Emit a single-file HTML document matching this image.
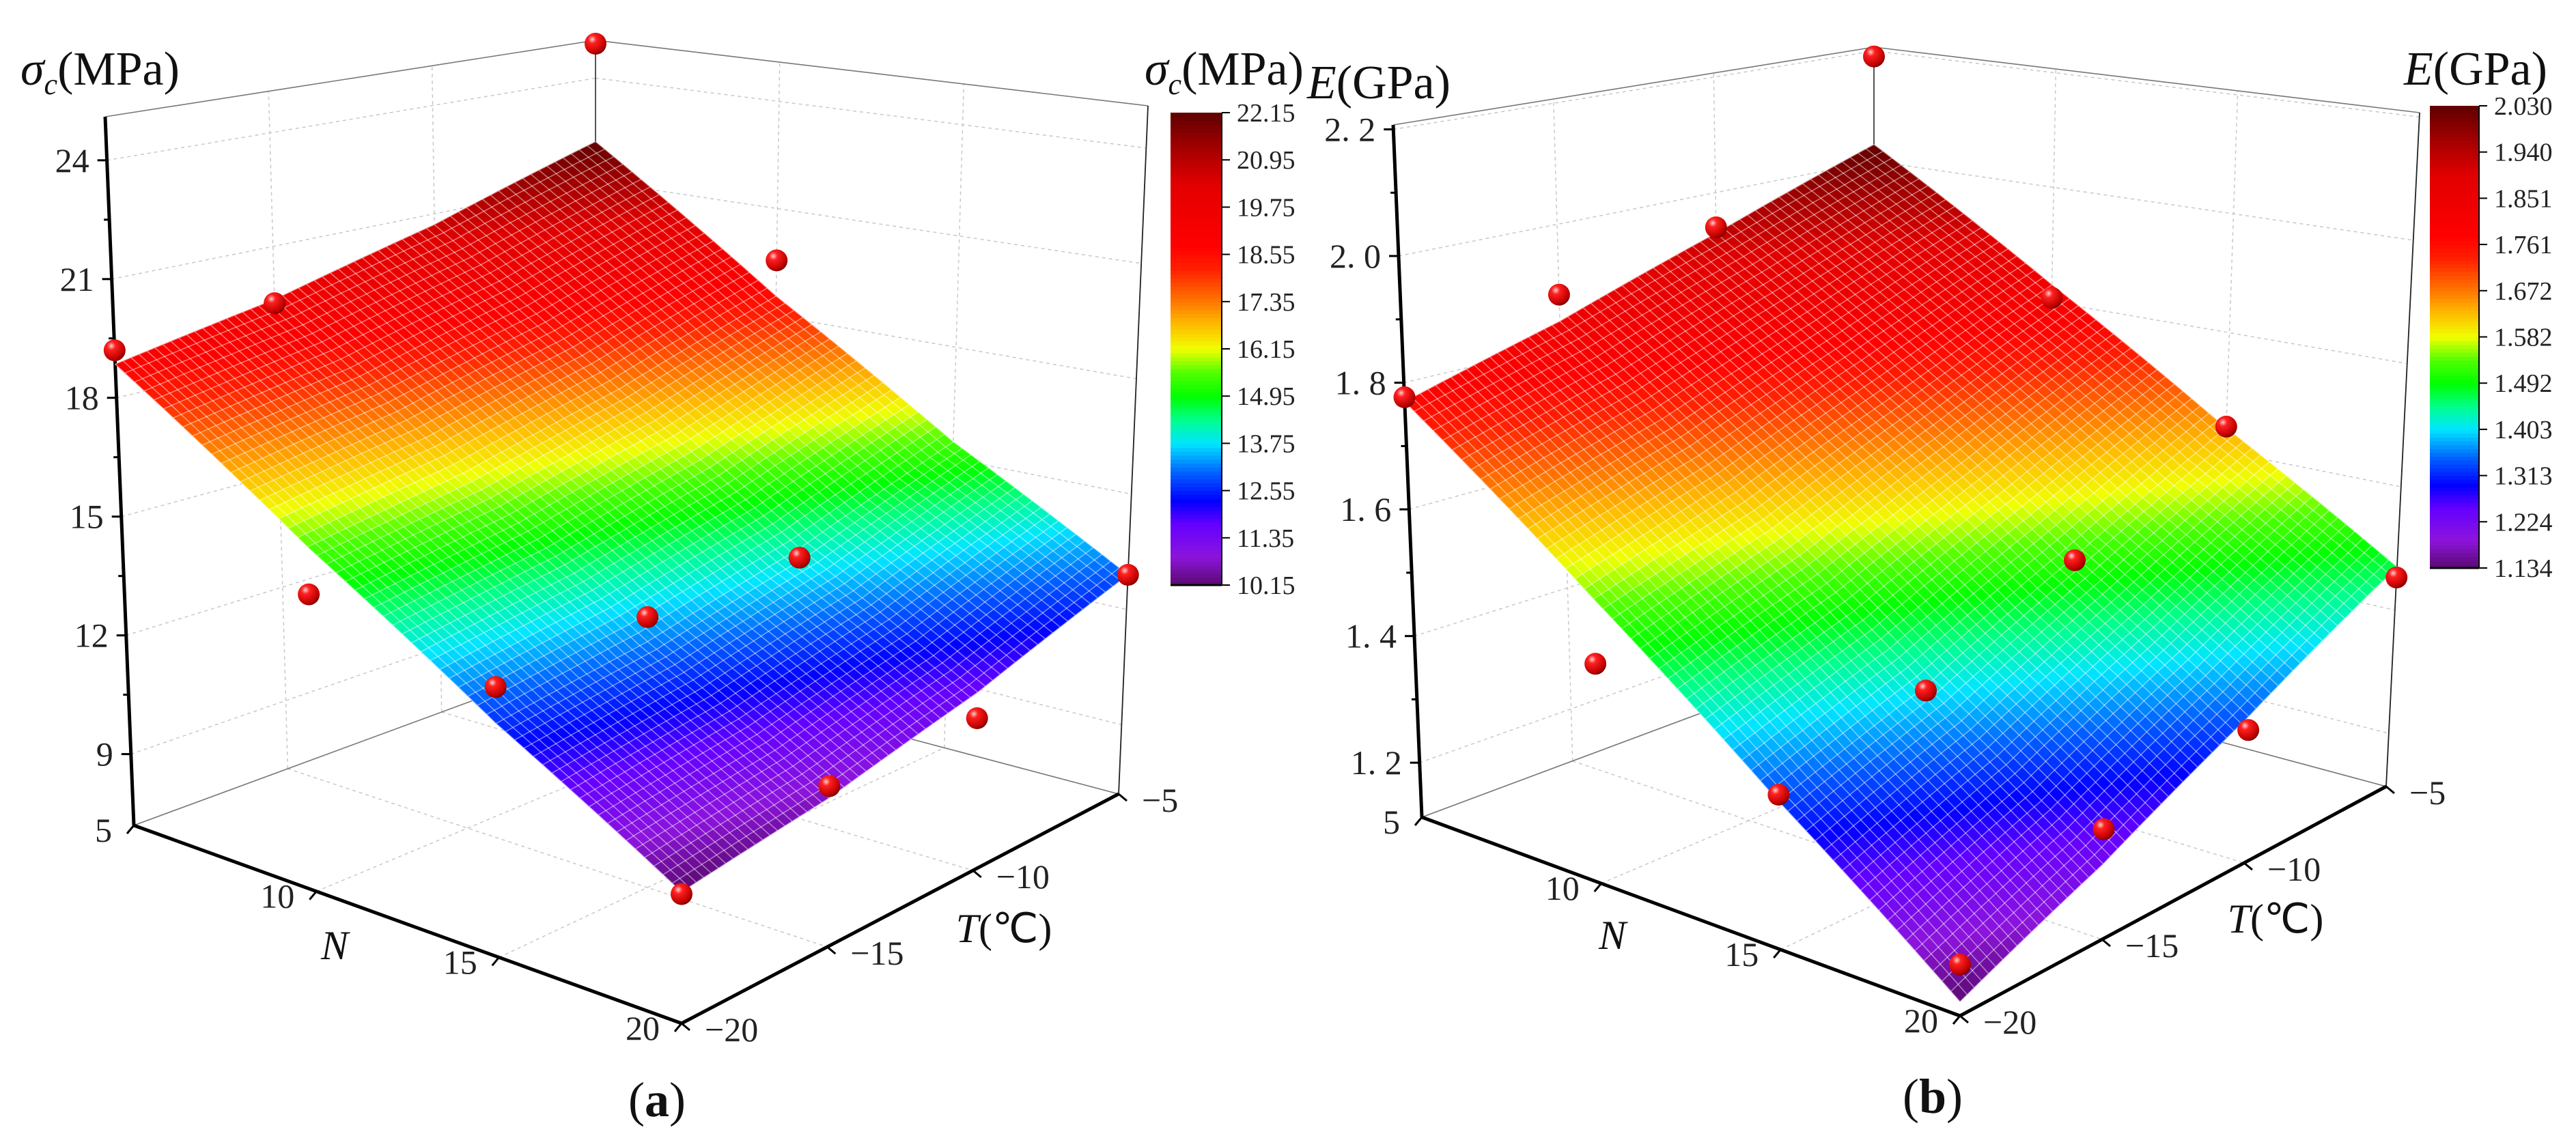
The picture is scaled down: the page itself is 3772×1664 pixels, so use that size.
<!DOCTYPE html>
<html><head><meta charset="utf-8"><style>
html,body{margin:0;padding:0;background:#fff;}
svg{display:block;font-family:"Liberation Serif",serif;}
</style></head><body>
<svg id="fig" width="3772" height="1664" viewBox="0 0 3772 1664" xmlns="http://www.w3.org/2000/svg">
<defs>
<radialGradient id="ball" cx="0.35" cy="0.3" r="0.75">
<stop offset="0" stop-color="#ffd0d0"/><stop offset="0.25" stop-color="#ff2020"/><stop offset="0.8" stop-color="#c00000"/><stop offset="1" stop-color="#700000"/>
</radialGradient>
</defs>
<g id="panelA"></g>
<g id="panelB"></g>
</svg>
<script>
// ---- Panel (a) data: sigma_c (MPa) ----
const Ns = [5, 10, 15, 20];
const Ts = [-20, -15, -10, -5];
const sigmaRowN5 = [18.85, 19.6, 20.7, 22.15];
const sigmaRowN10 = [15.55, 16.2, 17.2, 18.55];
const sigmaRowN15 = [12.65, 13.2, 14.1, 15.45];
const sigmaRowN20 = [10.15, 10.7, 11.6, 12.9];
const sigmaPtN = [5, 5, 5, 10, 10, 15, 15, 15, 20, 20, 20, 20];
const sigmaPtT = [-20, -15, -5, -5, -20, -15, -10, -20, -10, -15, -20, -5];
const sigmaPtZ = [19.2, 19.5, 25.0, 19.55, 14.4, 13.8, 13.86, 13.5, 10.96, 10.98, 10.1, 12.9];
const sigmaZTicks = [9, 12, 15, 18, 21, 24];
const sigmaZTickLabels = ["9", "12", "15", "18", "21", "24"];
const sigmaBarLabels = ["10.15","11.35","12.55","13.75","14.95","16.15","17.35","18.55","19.75","20.95","22.15"];
// ---- Panel (b) data: E (GPa) ----
const eRowN5 = [1.77, 1.84, 1.93, 2.03];
const eRowN10 = [1.545, 1.62, 1.72, 1.83];
const eRowN15 = [1.33, 1.41, 1.52, 1.64];
const eRowN20 = [1.134, 1.225, 1.34, 1.47];
const ePtN = [5, 5, 5, 5, 10, 15, 15, 20, 10, 15, 20, 15, 20, 20];
const ePtT = [-5, -20, -15, -10, -5, -5, -10, -5, -20, -15, -10, -20, -15, -20];
const ePtZ = [2.19, 1.777, 1.884, 1.94, 1.807, 1.642, 1.514, 1.453, 1.447, 1.403, 1.319, 1.34, 1.276, 1.186];
const eZTicks = [1.2, 1.4, 1.6, 1.8, 2.0, 2.2];
const eZTickLabels = ["1. 2", "1. 4", "1. 6", "1. 8", "2. 0", "2. 2"];
const eBarLabels = ["1.134","1.224","1.313","1.403","1.492","1.582","1.672","1.761","1.851","1.940","2.030"];
const nTickVals = [5, 10, 15, 20];
const tTickVals = [-20, -15, -10, -5];
const tTickLabels = ["\u221220", "\u221215", "\u221210", "\u22125"];

const NS = "http://www.w3.org/2000/svg";
const cmap = [[0,[90,10,110]],[0.06,[140,20,220]],[0.13,[100,0,255]],[0.18,[0,0,255]],[0.24,[0,100,255]],[0.3,[0,230,255]],[0.35,[0,255,140]],[0.4,[0,255,0]],[0.45,[80,255,0]],[0.5,[240,255,0]],[0.55,[255,190,0]],[0.6,[255,120,0]],[0.67,[255,30,0]],[0.72,[255,0,0]],[0.85,[225,0,0]],[0.93,[160,0,0]],[1,[95,0,0]]];
function color(t){t=Math.max(0,Math.min(1,t));for(let i=1;i<cmap.length;i++){if(t<=cmap[i][0]){const a=cmap[i-1],b=cmap[i];const f=(t-a[0])/(b[0]-a[0]);return 'rgb('+[0,1,2].map(k=>Math.round(a[1][k]+f*(b[1][k]-a[1][k]))).join(',')+')';}}return 'rgb(95,0,0)';}
function mk(tag,attrs,parent){const e=document.createElementNS(NS,tag);for(const k in attrs)e.setAttribute(k,attrs[k]);parent.appendChild(e);return e;}

function buildPanel(g,cfg,rows,ptN,ptT,ptZ,zTicks,zTickLabels,barLabels){
  const zmin=cfg.zmin,zmax=cfg.zmax;
  const bil=(c,u,v)=>[(1-u)*(1-v)*c.L[0]+u*(1-v)*c.F[0]+u*v*c.R[0]+(1-u)*v*c.B[0],(1-u)*(1-v)*c.L[1]+u*(1-v)*c.F[1]+u*v*c.R[1]+(1-u)*v*c.B[1]];
  const P=(u,v,w)=>{const a=bil(cfg.floor,u,v),b=bil(cfg.top,u,v);return [a[0]+w*(b[0]-a[0]),a[1]+w*(b[1]-a[1])];};
  const uN=n=>(n-Ns[0])/(Ns[Ns.length-1]-Ns[0]);
  const vT=t=>(t-Ts[0])/(Ts[Ts.length-1]-Ts[0]);
  const wZ=z=>(z-zmin)/(zmax-zmin);
  const surf=(u,v)=>{const x=u*(Ns.length-1),y=v*(Ts.length-1);const i=Math.min(Ns.length-2,Math.floor(x)),j=Math.min(Ts.length-2,Math.floor(y));const fx=x-i,fy=y-j;
    return rows[i][j]*(1-fx)*(1-fy)+rows[i+1][j]*fx*(1-fy)+rows[i][j+1]*(1-fx)*fy+rows[i+1][j+1]*fx*fy;};
  const line=(a,b,st)=>mk('line',Object.assign({x1:a[0].toFixed(1),y1:a[1].toFixed(1),x2:b[0].toFixed(1),y2:b[1].toFixed(1)},st),g);
  const grid={stroke:'#c8c8c8','stroke-width':1.5,'stroke-dasharray':'5 5'};
  zTicks.forEach(z=>{const w=wZ(z);line(P(0,0,w),P(0,1,w),grid);line(P(0,1,w),P(1,1,w),grid);});
  tTickVals.forEach(t=>{const v=vT(t);line(P(0,v,0),P(0,v,1),grid);line(P(0,v,0),P(1,v,0),grid);});
  nTickVals.forEach(n=>{const u=uN(n);line(P(u,1,0),P(u,1,1),grid);line(P(u,0,0),P(u,1,0),grid);});
  const thin={stroke:'#777','stroke-width':1.6};
  line(P(0,0,1),P(0,1,1),thin);line(P(0,1,1),P(1,1,1),thin);
  line(P(0,0,0),P(0,1,0),thin);line(P(0,1,0),P(1,1,0),thin);
  line(P(0,1,0),P(0,1,1),{stroke:'#444','stroke-width':1.8});
  line(P(1,1,0),P(1,1,1),{stroke:'#222','stroke-width':1.8});
  const thick={stroke:'#000','stroke-width':5};
  const zax=line(P(0,0,0),P(0,0,1),thick);
  const nax=line(P(0,0,0),P(1,0,0),thick);
  const tax=line(P(1,0,0),P(1,1,0),thick);
  zTicks.forEach((z,i)=>{const p=P(0,0,wZ(z));line([p[0]-14,p[1]],p,{stroke:'#000','stroke-width':3});
    const t=mk('text',{x:(p[0]-26).toFixed(1),y:(p[1]+17).toFixed(1),'text-anchor':'end','font-size':50,fill:'#222'},g);t.textContent=zTickLabels[i];
    });
  for(let k=0;k<zTicks.length;k++){const z=zTicks[k]+(zTicks[1]-zTicks[0])/2;if(wZ(z)<1){const p=P(0,0,wZ(z));line([p[0]-8,p[1]],p,{stroke:'#000','stroke-width':3});}}
  nTickVals.forEach(n=>{const p=P(uN(n),0,0);line(p,[p[0]-10,p[1]+12],{stroke:'#000','stroke-width':3});
    const t=mk('text',{x:(p[0]-32).toFixed(1),y:(p[1]+24).toFixed(1),'text-anchor':'end','font-size':50,fill:'#222'},g);t.textContent=String(n);
    });
  tTickVals.forEach((tv,i)=>{const p=P(1,vT(tv),0);line(p,[p[0]+12,p[1]+10],{stroke:'#000','stroke-width':3});
    const t=mk('text',{x:(p[0]+34).toFixed(1),y:(p[1]+26).toFixed(1),'text-anchor':'start','font-size':50,fill:'#222'},g);t.textContent=tTickLabels[i];
    });
  const pts=ptN.map((n,i)=>({u:uN(n),v:vT(ptT[i]),z:ptZ[i]}));
  const drawPt=p=>{const q=P(p.u,p.v,wZ(p.z));const c=mk('circle',{cx:q[0].toFixed(1),cy:q[1].toFixed(1),r:16,fill:'url(#ball)'},g);
    };
  const M=60,cells=[];
  for(let i=0;i<M;i++)for(let j=0;j<M;j++)cells.push([i,j]);
  cells.sort((a,b)=>(a[0]-a[1])-(b[0]-b[1]));
  const sg=mk('g',{},g);
  cells.forEach(([i,j])=>{const u0=i/M,u1=(i+1)/M,v0=j/M,v1=(j+1)/M;
    const cs=[[u0,v0],[u1,v0],[u1,v1],[u0,v1]].map(([u,v])=>P(u,v,wZ(surf(u,v))));
    const zc=surf((u0+u1)/2,(v0+v1)/2);const col=color((zc-cfg.cmin)/(cfg.cmax-cfg.cmin));
    mk('polygon',{points:cs.map(p=>p[0].toFixed(1)+','+p[1].toFixed(1)).join(' '),fill:col,stroke:col,'stroke-width':0.8},sg);});
  const mg=mk('g',{stroke:'rgba(255,255,255,0.5)','stroke-width':1.4,fill:'none'},g);
  for(let i=0;i<=M;i++){let d='';for(let j=0;j<=M;j++){const p=P(i/M,j/M,wZ(surf(i/M,j/M)));d+=(j?'L':'M')+p[0].toFixed(1)+' '+p[1].toFixed(1);}mk('path',{d:d},mg);
    d='';for(let j=0;j<=M;j++){const p=P(j/M,i/M,wZ(surf(j/M,i/M)));d+=(j?'L':'M')+p[0].toFixed(1)+' '+p[1].toFixed(1);}mk('path',{d:d},mg);}
  pts.forEach(drawPt);
  const cb=cfg.bar;const cg=mk('g',{},g);
  const S=120;for(let k=0;k<S;k++){const y=cb.y1-(k+1)*(cb.y1-cb.y0)/S;mk('rect',{x:cb.x0,y:y.toFixed(1),width:cb.x1-cb.x0,height:((cb.y1-cb.y0)/S+0.8).toFixed(1),fill:color((k+0.5)/S)},cg);}
  mk('line',{x1:cb.x0,y1:cb.y1,x2:cb.x1,y2:cb.y1,stroke:'#000','stroke-width':3},cg);
  mk('line',{x1:cb.x1,y1:cb.y0,x2:cb.x1,y2:cb.y1,stroke:'#000','stroke-width':2},cg);
  barLabels.forEach((lab,k)=>{const y=cb.y1-k*(cb.y1-cb.y0)/(barLabels.length-1);mk('line',{x1:cb.x1,y1:y,x2:cb.x1+12,y2:y,stroke:'#000','stroke-width':2},cg);
    const t=mk('text',{x:cb.x1+22,y:(y+13).toFixed(1),'font-size':38,fill:'#222'},cg);t.textContent=lab;
    });
}
const A=document.getElementById('panelA'),B=document.getElementById('panelB');
buildPanel(A,{zmin:7.2,zmax:25.1,cmin:10.15,cmax:22.15,
  floor:{L:[196,1209],F:[998,1499],R:[1638,1163],B:[872,960]},top:{L:[154,171],F:[998,330],R:[1681,155],B:[872,59]},
  bar:{x0:1714,x1:1789,y0:165,y1:857}},[sigmaRowN5,sigmaRowN10,sigmaRowN15,sigmaRowN20],sigmaPtN,sigmaPtT,sigmaPtZ,sigmaZTicks,sigmaZTickLabels,sigmaBarLabels);
buildPanel(B,{zmin:1.114,zmax:2.207,cmin:1.134,cmax:2.03,
  floor:{L:[2082,1197],F:[2870,1488],R:[3494,1152],B:[2744,950]},top:{L:[2040,183],F:[2870,348],R:[3543,165],B:[2744,69]},
  bar:{x0:3558,x1:3630,y0:155,y1:832}},[eRowN5,eRowN10,eRowN15,eRowN20],ePtN,ePtT,ePtZ,eZTicks,eZTickLabels,eBarLabels);
</script>
<script>
(function(){
const NS="http://www.w3.org/2000/svg",svg=document.getElementById('fig');
function txt(html,x,y,size,name,anchor){const t=document.createElementNS(NS,'text');t.setAttribute('x',x);t.setAttribute('y',y);t.setAttribute('font-size',size);t.setAttribute('fill','#111');if(anchor)t.setAttribute('text-anchor',anchor);t.innerHTML=html;


svg.appendChild(t);}
const sig='<tspan font-style="italic">σ</tspan><tspan font-style="italic" font-size="44" dy="14">c</tspan><tspan dy="-14">(MPa)</tspan>';
txt(sig,30,124,70,'z-axis-title-a');
txt(sig,1676,124,70,'colorbar-title-a');
txt('<tspan font-style="italic">E</tspan>(GPa)',1914,144,70,'z-axis-title-b');
txt('<tspan font-style="italic">E</tspan>(GPa)',3520,124,70,'colorbar-title-b');
txt('<tspan font-style="italic">N</tspan>',490,1405,60,'n-axis-title-a','middle');
txt('<tspan font-style="italic">T</tspan>(℃)',1470,1380,60,'t-axis-title-a','middle');
txt('<tspan font-style="italic">N</tspan>',2361,1390,60,'n-axis-title-b','middle');
txt('<tspan font-style="italic">T</tspan>(℃)',3332,1366,60,'t-axis-title-b','middle');
txt('(<tspan font-weight="bold">a</tspan>)',962,1635,72,'panel-label-a','middle');
txt('(<tspan font-weight="bold">b</tspan>)',2830,1630,72,'panel-label-b','middle');
})();
</script>
</body></html>
